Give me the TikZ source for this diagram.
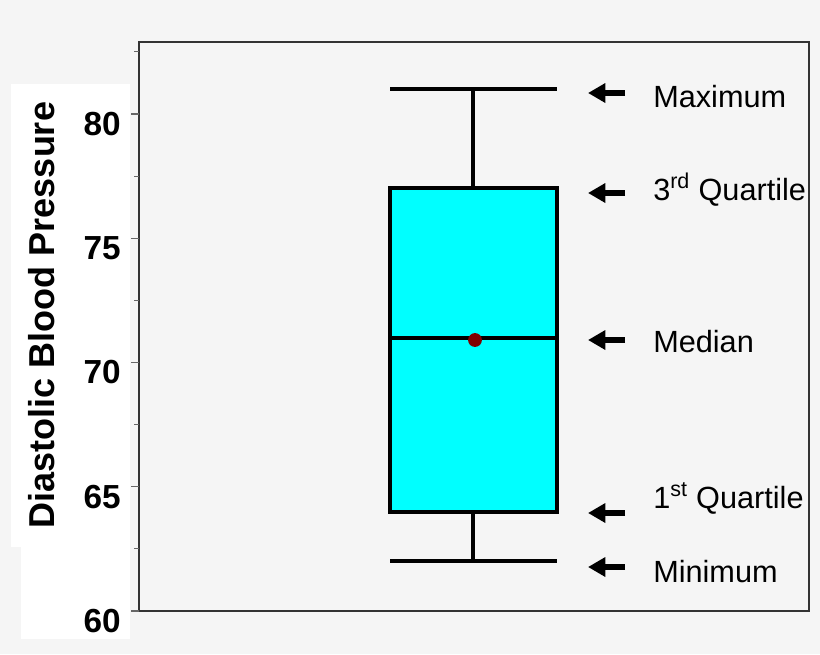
\documentclass[tikz,border=0pt]{standalone}
\usepackage{fontspec}
\setmainfont{Liberation Sans}
\usetikzlibrary{arrows.meta}
\definecolor{boxc}{RGB}{0,255,255}
\begin{document}
\begin{tikzpicture}[x=0.75pt,y=-0.75pt,
  lab/.style={anchor=west,font=\fontsize{23}{26}\selectfont,inner sep=0},
  tick/.style={anchor=east,font=\fontsize{25}{28}\selectfont\bfseries,inner sep=0},
  arr/.style={line width=4pt,-{Triangle[length=13pt,width=14pt]}},
  bx/.style={line width=2.3pt}]
\fill[black!4] (0,0) rectangle (820,654);
\useasboundingbox (0,0) rectangle (820,654);
\fill[white] (11,84) rectangle (130,547);
\fill[white] (21,547) rectangle (130,639);
\draw[black!80,line width=0.8pt] (139,42) rectangle (809,611);
\foreach \v/\i in {60/0,65/1,70/2,75/3,80/4}{
  \draw[black!60,line width=0.8pt] (131,{611-124.25*\i}) -- (139,{611-124.25*\i});
  \node[tick] (t\v) at (121,{621-124.25*\i}) {\v};}
\foreach \i in {0.5,1.5,2.5,3.5,4.5}
  \draw[black!60,line width=0.8pt] (134,{611-124.25*\i}) -- (139,{611-124.25*\i});
\node[rotate=90,font=\fontsize{27}{30}\selectfont\bfseries,inner sep=0] (yl) at (42,315) {Diastolic Blood Pressure};
\draw[bx,fill=boxc] (390,188) rectangle (557,512);
\coordinate (top) at (473,89); \coordinate (qt) at (473,188);
\coordinate (bot) at (473,561); \coordinate (qb) at (473,512);
\draw[bx] (top) -- (qt); \draw[bx] (qb) -- (bot);
\draw[bx] (390,89) -- (557,89); \draw[bx] (390,561) -- (557,561);
\draw[bx] (390,338) -- (557,338);
\fill[red!50!black] (475,340) circle (5.2pt);
\foreach \y/\n in {93/a,193/b,340/c,513/d,567/e}{
  \coordinate (s\n) at (625,\y); \coordinate (e\n) at (588,\y);
  \draw[arr] (s\n) -- (e\n);}
\node[lab] (l1) at (653,97) {Maximum};
\node[lab] (l2) at (653,190) {3\textsuperscript{rd} Quartile};
\node[lab] (l3) at (653,342) {Median};
\node[lab] (l4) at (653,498) {1\textsuperscript{st} Quartile};
\node[lab] (l5) at (653,572) {Minimum};
\end{tikzpicture}
\end{document}
